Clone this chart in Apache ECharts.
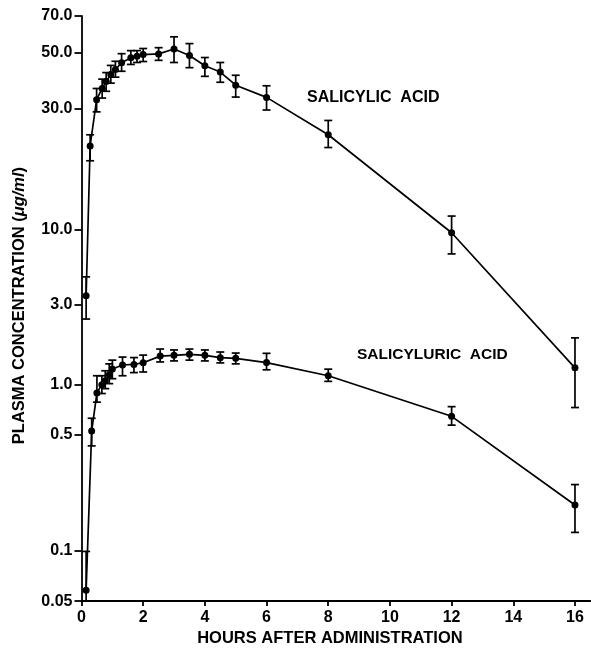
<!DOCTYPE html>
<html>
<head>
<meta charset="utf-8">
<script src="https://cdn.jsdelivr.net/npm/echarts@6/dist/echarts.min.js"></script>
<style>
html,body{margin:0;padding:0;background:#fff;}
#chart{width:591px;height:652px;}
</style>
</head>
<body>
<div id="chart"></div>
<script>
// ---- data ----
var salTimes = [0.15, 0.28, 0.49, 0.67, 0.8, 0.95, 1.1, 1.3, 1.6, 1.8, 2.0, 2.5, 3.0, 3.5, 4, 4.5, 5, 6, 8, 12, 16];
var salMean  = [3.46, 21.4, 32.6, 36.1, 38.5, 41.0, 42.9, 45.6, 47.7, 48.4, 49.1, 49.4, 51.7, 48.7, 44.4, 41.9, 37.2, 33.3, 23.7, 9.49, 1.26];
var salLow   = [2.46, 18.7, 29.2, 33.1, 35.2, 37.9, 40.0, 42.2, 44.9, 45.7, 46.1, 46.6, 45.7, 43.6, 40.3, 38.2, 33.4, 29.7, 21.1, 6.76, 0.73];
var salHigh  = [4.68, 23.7, 36.1, 39.3, 41.7, 44.5, 46.2, 49.5, 50.9, 50.9, 51.9, 52.3, 57.8, 54.3, 47.8, 45.7, 40.7, 37.0, 27.0, 11.3, 1.90];

var suaTimes = [0.15, 0.33, 0.5, 0.66, 0.77, 0.9, 1.0, 1.33, 1.7, 2.0, 2.55, 3.0, 3.5, 4, 4.5, 5, 6, 8, 12, 16];
var suaMean  = [0.058, 0.528, 0.893, 1.0, 1.056, 1.145, 1.24, 1.31, 1.32, 1.35, 1.48, 1.496, 1.516, 1.496, 1.448, 1.436, 1.353, 1.13, 0.647, 0.189];
var suaLow   = [0.05, 0.430, 0.786, 0.885, 0.947, 1.014, 1.085, 1.13, 1.18, 1.19, 1.366, 1.385, 1.40, 1.385, 1.348, 1.33, 1.226, 1.046, 0.573, 0.129];
var suaHigh  = [0.099, 0.630, 1.13, 1.13, 1.21, 1.33, 1.40, 1.46, 1.45, 1.50, 1.63, 1.61, 1.63, 1.61, 1.565, 1.543, 1.537, 1.237, 0.739, 0.251];

var yTickValues = [0.05, 0.1, 0.5, 1.0, 3.0, 10.0, 30.0, 50.0, 70.0];
var yTickLabels = ['0.05', '0.1', '0.5', '1.0', '3.0', '10.0', '30.0', '50.0', '70.0'];
var xTickValues = [0, 2, 4, 6, 8, 10, 12, 14, 16];

// The original's concentration axis is a hand-ruled log scale whose spacing
// differs between its lower and upper parts; these are its ruled positions.
var yScaleRuled = [0, 51, 168, 219, 300, 376, 498, 555, 592];

function T(v) {
  var L = Math.log10(v);
  var logs = yTickValues.map(function (t) { return Math.log10(t); });
  var i = 0;
  if (L <= logs[0]) i = 0;
  else if (L >= logs[logs.length - 1]) i = logs.length - 2;
  else { while (!(L >= logs[i] && L <= logs[i + 1])) i++; }
  var f = (L - logs[i]) / (logs[i + 1] - logs[i]);
  return yScaleRuled[i] + f * (yScaleRuled[i + 1] - yScaleRuled[i]);
}

function pts(times, vals) { return times.map(function (t, i) { return [t, T(vals[i])]; }); }
function bars(times, lo, hi) { return times.map(function (t, i) { return [t, T(lo[i]), T(hi[i])]; }); }

var FONT = 'Liberation Sans';

function errRender(params, api) {
  var x = api.value(0);
  var p1 = api.coord([x, api.value(2)]);
  var p2 = api.coord([x, api.value(1)]);
  var hw = 4;
  var st = { stroke: '#000', lineWidth: 1.7 };
  return {
    type: 'group',
    children: [
      { type: 'line', shape: { x1: p1[0], y1: p1[1], x2: p2[0], y2: p2[1] }, style: st },
      { type: 'line', shape: { x1: p1[0] - hw, y1: p1[1], x2: p1[0] + hw, y2: p1[1] }, style: st },
      { type: 'line', shape: { x1: p2[0] - hw, y1: p2[1], x2: p2[0] + hw, y2: p2[1] }, style: st }
    ]
  };
}

var chart = echarts.init(document.getElementById('chart'), null, { renderer: 'canvas' });
var yMax = T(70);

chart.setOption({
  backgroundColor: '#fff',
  animation: false,
  grid: { left: 81.5, right: 0.6, top: 16, bottom: 44, containLabel: false },
  xAxis: {
    type: 'value', min: 0, max: 16.5,
    name: 'HOURS AFTER ADMINISTRATION', nameLocation: 'middle', nameGap: 23,
    nameTextStyle: { fontFamily: FONT, fontSize: 16.5, fontWeight: 'bold', color: '#000', padding: [0, 12, 0, 0] },
    axisLine: { lineStyle: { color: '#000', width: 1.8 } },
    axisTick: { show: true, length: 5, customValues: xTickValues, lineStyle: { color: '#000', width: 1.8 } },
    axisLabel: { customValues: xTickValues, fontFamily: FONT, fontSize: 16, fontWeight: 'bold', color: '#000', margin: 8 },
    splitLine: { show: false }
  },
  yAxis: {
    type: 'value', min: 0, max: yMax,
    name: 'PLASMA CONCENTRATION ({i|μg/ml})', nameLocation: 'middle', nameGap: 54, nameRotate: 90,
    nameTextStyle: { fontFamily: FONT, fontSize: 16.5, fontWeight: 'bold', color: '#000', padding: [0, 0, 0, 6],
      rich: { i: { fontFamily: FONT, fontSize: 16.5, fontWeight: 'bold', fontStyle: 'italic', color: '#000' } } },
    axisLine: { show: true, lineStyle: { color: '#000', width: 1.8 } },
    axisTick: { show: true, length: 7, customValues: yTickValues.map(T), lineStyle: { color: '#000', width: 1.8 } },
    axisLabel: {
      customValues: yTickValues.map(T), fontFamily: FONT, fontSize: 16, fontWeight: 'bold', color: '#000', margin: 9,
      formatter: function (u) {
        var best = 0, bd = 1e9;
        yTickValues.forEach(function (v, i) { var d = Math.abs(T(v) - u); if (d < bd) { bd = d; best = i; } });
        return yTickLabels[best];
      }
    },
    splitLine: { show: false }
  },
  graphic: [
    { type: 'text', left: 307, top: 90, style: { text: 'SALICYLIC  ACID', font: 'bold 16px "Liberation Sans"', fill: '#000' } },
    { type: 'text', left: 357, top: 347, style: { text: 'SALICYLURIC  ACID', font: 'bold 15.5px "Liberation Sans"', fill: '#000' } }
  ],
  series: [
    { name: 'Salicylic acid', type: 'line', data: pts(salTimes, salMean), symbol: 'circle', symbolSize: 7,
      itemStyle: { color: '#000' }, lineStyle: { color: '#000', width: 1.7 }, z: 3 },
    { name: 'Salicylic acid SD', type: 'custom', data: bars(salTimes, salLow, salHigh), renderItem: errRender,
      encode: { x: 0, y: [1, 2] }, z: 2 },
    { name: 'Salicyluric acid', type: 'line', data: pts(suaTimes, suaMean), symbol: 'circle', symbolSize: 7,
      itemStyle: { color: '#000' }, lineStyle: { color: '#000', width: 1.7 }, z: 3 },
    { name: 'Salicyluric acid SD', type: 'custom', data: bars(suaTimes, suaLow, suaHigh), renderItem: errRender,
      encode: { x: 0, y: [1, 2] }, z: 2 }
  ]
});
</script>
</body>
</html>
